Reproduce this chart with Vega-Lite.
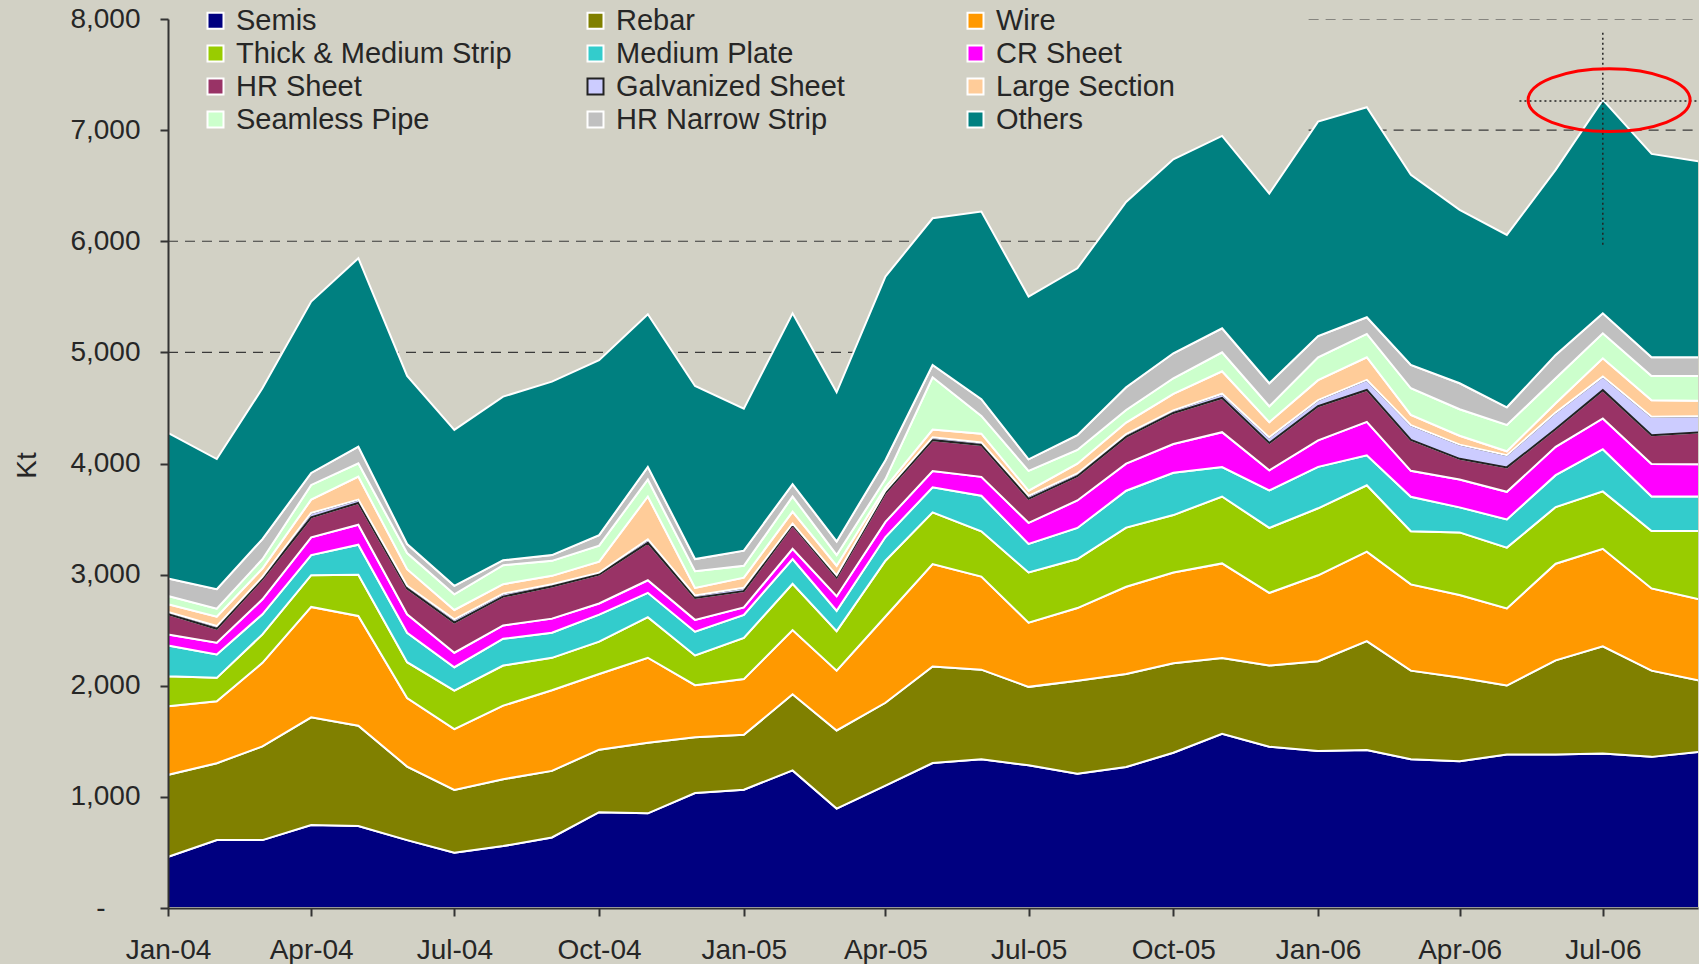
{
"$schema": "https://vega.github.io/schema/vega-lite/v6.json",
"width": 1530, "height": 889,
"autosize": {"type": "none"},
"padding": {"left": 168, "top": 19, "right": 1, "bottom": 56},
"background": "#d2d1c5",
"config": {"view": {"stroke": null}, "font": "Liberation Sans"},
"datasets": {
"series": [
{"s":"Semis","k":1},{"s":"Rebar","k":2},{"s":"Wire","k":3},{"s":"Thick & Medium Strip","k":4},{"s":"Medium Plate","k":5},{"s":"CR Sheet","k":6},{"s":"HR Sheet","k":7},{"s":"Galvanized Sheet","k":8},{"s":"Large Section","k":9},{"s":"Seamless Pipe","k":10},{"s":"HR Narrow Strip","k":11},{"s":"Others","k":12}
],
"grid": [
{"v":5000,"d":"2004-01","d2":"2006-09"},
{"v":6000,"d":"2004-01","d2":"2006-09"},
{"v":7000,"d":"2005-12-26","d2":"2006-09"},
{"v":8000,"d":"2005-12-26","d2":"2006-09"}
],
"vcross": [{"d":"2006-07","v":5968,"v2":7903}],
"hcross": [{"d":"2006-05-09","d2":"2006-09","v":7262}],
"ring": [{"d":"2006-07-05","v":7270}],
"steel": [
{"d":"2004-01","s":"Semis","v":460},{"d":"2004-01","s":"Rebar","v":738},{"d":"2004-01","s":"Wire","v":617},{"d":"2004-01","s":"Thick & Medium Strip","v":271},{"d":"2004-01","s":"Medium Plate","v":277},{"d":"2004-01","s":"CR Sheet","v":99},{"d":"2004-01","s":"HR Sheet","v":181},{"d":"2004-01","s":"Galvanized Sheet","v":21},{"d":"2004-01","s":"Large Section","v":69},{"d":"2004-01","s":"Seamless Pipe","v":75},{"d":"2004-01","s":"HR Narrow Strip","v":157},{"d":"2004-01","s":"Others","v":1310},
{"d":"2004-02","s":"Semis","v":611},{"d":"2004-02","s":"Rebar","v":692},{"d":"2004-02","s":"Wire","v":557},{"d":"2004-02","s":"Thick & Medium Strip","v":211},{"d":"2004-02","s":"Medium Plate","v":211},{"d":"2004-02","s":"CR Sheet","v":105},{"d":"2004-02","s":"HR Sheet","v":126},{"d":"2004-02","s":"Galvanized Sheet","v":24},{"d":"2004-02","s":"Large Section","v":85},{"d":"2004-02","s":"Seamless Pipe","v":72},{"d":"2004-02","s":"HR Narrow Strip","v":175},{"d":"2004-02","s":"Others","v":1171},
{"d":"2004-03","s":"Semis","v":611},{"d":"2004-03","s":"Rebar","v":843},{"d":"2004-03","s":"Wire","v":752},{"d":"2004-03","s":"Thick & Medium Strip","v":256},{"d":"2004-03","s":"Medium Plate","v":181},{"d":"2004-03","s":"CR Sheet","v":135},{"d":"2004-03","s":"HR Sheet","v":181},{"d":"2004-03","s":"Galvanized Sheet","v":21},{"d":"2004-03","s":"Large Section","v":75},{"d":"2004-03","s":"Seamless Pipe","v":84},{"d":"2004-03","s":"HR Narrow Strip","v":181},{"d":"2004-03","s":"Others","v":1357},
{"d":"2004-04","s":"Semis","v":746},{"d":"2004-04","s":"Rebar","v":970},{"d":"2004-04","s":"Wire","v":993},{"d":"2004-04","s":"Thick & Medium Strip","v":286},{"d":"2004-04","s":"Medium Plate","v":181},{"d":"2004-04","s":"CR Sheet","v":159},{"d":"2004-04","s":"HR Sheet","v":181},{"d":"2004-04","s":"Galvanized Sheet","v":39},{"d":"2004-04","s":"Large Section","v":120},{"d":"2004-04","s":"Seamless Pipe","v":132},{"d":"2004-04","s":"HR Narrow Strip","v":108},{"d":"2004-04","s":"Others","v":1542},
{"d":"2004-05","s":"Semis","v":737},{"d":"2004-05","s":"Rebar","v":903},{"d":"2004-05","s":"Wire","v":988},{"d":"2004-05","s":"Thick & Medium Strip","v":370},{"d":"2004-05","s":"Medium Plate","v":271},{"d":"2004-05","s":"CR Sheet","v":180},{"d":"2004-05","s":"HR Sheet","v":196},{"d":"2004-05","s":"Galvanized Sheet","v":30},{"d":"2004-05","s":"Large Section","v":207},{"d":"2004-05","s":"Seamless Pipe","v":120},{"d":"2004-05","s":"HR Narrow Strip","v":150},{"d":"2004-05","s":"Others","v":1696},
{"d":"2004-06","s":"Semis","v":611},{"d":"2004-06","s":"Rebar","v":662},{"d":"2004-06","s":"Wire","v":617},{"d":"2004-06","s":"Thick & Medium Strip","v":322},{"d":"2004-06","s":"Medium Plate","v":265},{"d":"2004-06","s":"CR Sheet","v":166},{"d":"2004-06","s":"HR Sheet","v":232},{"d":"2004-06","s":"Galvanized Sheet","v":24},{"d":"2004-06","s":"Large Section","v":150},{"d":"2004-06","s":"Seamless Pipe","v":145},{"d":"2004-06","s":"HR Narrow Strip","v":81},{"d":"2004-06","s":"Others","v":1513},
{"d":"2004-07","s":"Semis","v":497},{"d":"2004-07","s":"Rebar","v":566},{"d":"2004-07","s":"Wire","v":547},{"d":"2004-07","s":"Thick & Medium Strip","v":347},{"d":"2004-07","s":"Medium Plate","v":210},{"d":"2004-07","s":"CR Sheet","v":130},{"d":"2004-07","s":"HR Sheet","v":271},{"d":"2004-07","s":"Galvanized Sheet","v":30},{"d":"2004-07","s":"Large Section","v":84},{"d":"2004-07","s":"Seamless Pipe","v":141},{"d":"2004-07","s":"HR Narrow Strip","v":76},{"d":"2004-07","s":"Others","v":1403},
{"d":"2004-08","s":"Semis","v":557},{"d":"2004-08","s":"Rebar","v":602},{"d":"2004-08","s":"Wire","v":662},{"d":"2004-08","s":"Thick & Medium Strip","v":361},{"d":"2004-08","s":"Medium Plate","v":241},{"d":"2004-08","s":"CR Sheet","v":120},{"d":"2004-08","s":"HR Sheet","v":259},{"d":"2004-08","s":"Galvanized Sheet","v":27},{"d":"2004-08","s":"Large Section","v":85},{"d":"2004-08","s":"Seamless Pipe","v":171},{"d":"2004-08","s":"HR Narrow Strip","v":45},{"d":"2004-08","s":"Others","v":1472},
{"d":"2004-09","s":"Semis","v":635},{"d":"2004-09","s":"Rebar","v":599},{"d":"2004-09","s":"Wire","v":726},{"d":"2004-09","s":"Thick & Medium Strip","v":291},{"d":"2004-09","s":"Medium Plate","v":226},{"d":"2004-09","s":"CR Sheet","v":127},{"d":"2004-09","s":"HR Sheet","v":289},{"d":"2004-09","s":"Galvanized Sheet","v":21},{"d":"2004-09","s":"Large Section","v":75},{"d":"2004-09","s":"Seamless Pipe","v":135},{"d":"2004-09","s":"HR Narrow Strip","v":52},{"d":"2004-09","s":"Others","v":1561},
{"d":"2004-10","s":"Semis","v":862},{"d":"2004-10","s":"Rebar","v":563},{"d":"2004-10","s":"Wire","v":681},{"d":"2004-10","s":"Thick & Medium Strip","v":291},{"d":"2004-10","s":"Medium Plate","v":243},{"d":"2004-10","s":"CR Sheet","v":100},{"d":"2004-10","s":"HR Sheet","v":260},{"d":"2004-10","s":"Galvanized Sheet","v":18},{"d":"2004-10","s":"Large Section","v":99},{"d":"2004-10","s":"Seamless Pipe","v":144},{"d":"2004-10","s":"HR Narrow Strip","v":95},{"d":"2004-10","s":"Others","v":1574},
{"d":"2004-11","s":"Semis","v":852},{"d":"2004-11","s":"Rebar","v":636},{"d":"2004-11","s":"Wire","v":764},{"d":"2004-11","s":"Thick & Medium Strip","v":365},{"d":"2004-11","s":"Medium Plate","v":219},{"d":"2004-11","s":"CR Sheet","v":113},{"d":"2004-11","s":"HR Sheet","v":337},{"d":"2004-11","s":"Galvanized Sheet","v":31},{"d":"2004-11","s":"Large Section","v":386},{"d":"2004-11","s":"Seamless Pipe","v":153},{"d":"2004-11","s":"HR Narrow Strip","v":114},{"d":"2004-11","s":"Others","v":1373},
{"d":"2004-12","s":"Semis","v":1035},{"d":"2004-12","s":"Rebar","v":502},{"d":"2004-12","s":"Wire","v":468},{"d":"2004-12","s":"Thick & Medium Strip","v":268},{"d":"2004-12","s":"Medium Plate","v":213},{"d":"2004-12","s":"CR Sheet","v":107},{"d":"2004-12","s":"HR Sheet","v":197},{"d":"2004-12","s":"Galvanized Sheet","v":22},{"d":"2004-12","s":"Large Section","v":68},{"d":"2004-12","s":"Seamless Pipe","v":150},{"d":"2004-12","s":"HR Narrow Strip","v":110},{"d":"2004-12","s":"Others","v":1558},
{"d":"2005-01","s":"Semis","v":1065},{"d":"2005-01","s":"Rebar","v":493},{"d":"2005-01","s":"Wire","v":502},{"d":"2005-01","s":"Thick & Medium Strip","v":371},{"d":"2005-01","s":"Medium Plate","v":207},{"d":"2005-01","s":"CR Sheet","v":67},{"d":"2005-01","s":"HR Sheet","v":146},{"d":"2005-01","s":"Galvanized Sheet","v":31},{"d":"2005-01","s":"Large Section","v":91},{"d":"2005-01","s":"Seamless Pipe","v":107},{"d":"2005-01","s":"HR Narrow Strip","v":136},{"d":"2005-01","s":"Others","v":1278},
{"d":"2005-02","s":"Semis","v":1238},{"d":"2005-02","s":"Rebar","v":685},{"d":"2005-02","s":"Wire","v":578},{"d":"2005-02","s":"Thick & Medium Strip","v":417},{"d":"2005-02","s":"Medium Plate","v":222},{"d":"2005-02","s":"CR Sheet","v":92},{"d":"2005-02","s":"HR Sheet","v":213},{"d":"2005-02","s":"Galvanized Sheet","v":15},{"d":"2005-02","s":"Large Section","v":106},{"d":"2005-02","s":"Seamless Pipe","v":137},{"d":"2005-02","s":"HR Narrow Strip","v":112},{"d":"2005-02","s":"Others","v":1537},
{"d":"2005-03","s":"Semis","v":895},{"d":"2005-03","s":"Rebar","v":703},{"d":"2005-03","s":"Wire","v":538},{"d":"2005-03","s":"Thick & Medium Strip","v":356},{"d":"2005-03","s":"Medium Plate","v":183},{"d":"2005-03","s":"CR Sheet","v":131},{"d":"2005-03","s":"HR Sheet","v":167},{"d":"2005-03","s":"Galvanized Sheet","v":21},{"d":"2005-03","s":"Large Section","v":86},{"d":"2005-03","s":"Seamless Pipe","v":97},{"d":"2005-03","s":"HR Narrow Strip","v":122},{"d":"2005-03","s":"Others","v":1342},
{"d":"2005-04","s":"Semis","v":1102},{"d":"2005-04","s":"Rebar","v":745},{"d":"2005-04","s":"Wire","v":776},{"d":"2005-04","s":"Thick & Medium Strip","v":502},{"d":"2005-04","s":"Medium Plate","v":213},{"d":"2005-04","s":"CR Sheet","v":137},{"d":"2005-04","s":"HR Sheet","v":259},{"d":"2005-04","s":"Galvanized Sheet","v":21},{"d":"2005-04","s":"Large Section","v":31},{"d":"2005-04","s":"Seamless Pipe","v":74},{"d":"2005-04","s":"HR Narrow Strip","v":170},{"d":"2005-04","s":"Others","v":1652},
{"d":"2005-05","s":"Semis","v":1305},{"d":"2005-05","s":"Rebar","v":868},{"d":"2005-05","s":"Wire","v":922},{"d":"2005-05","s":"Thick & Medium Strip","v":465},{"d":"2005-05","s":"Medium Plate","v":226},{"d":"2005-05","s":"CR Sheet","v":146},{"d":"2005-05","s":"HR Sheet","v":278},{"d":"2005-05","s":"Galvanized Sheet","v":26},{"d":"2005-05","s":"Large Section","v":69},{"d":"2005-05","s":"Seamless Pipe","v":471},{"d":"2005-05","s":"HR Narrow Strip","v":111},{"d":"2005-05","s":"Others","v":1320},
{"d":"2005-06","s":"Semis","v":1339},{"d":"2005-06","s":"Rebar","v":806},{"d":"2005-06","s":"Wire","v":837},{"d":"2005-06","s":"Thick & Medium Strip","v":408},{"d":"2005-06","s":"Medium Plate","v":320},{"d":"2005-06","s":"CR Sheet","v":170},{"d":"2005-06","s":"HR Sheet","v":286},{"d":"2005-06","s":"Galvanized Sheet","v":24},{"d":"2005-06","s":"Large Section","v":78},{"d":"2005-06","s":"Seamless Pipe","v":160},{"d":"2005-06","s":"HR Narrow Strip","v":151},{"d":"2005-06","s":"Others","v":1688},
{"d":"2005-07","s":"Semis","v":1284},{"d":"2005-07","s":"Rebar","v":706},{"d":"2005-07","s":"Wire","v":578},{"d":"2005-07","s":"Thick & Medium Strip","v":451},{"d":"2005-07","s":"Medium Plate","v":258},{"d":"2005-07","s":"CR Sheet","v":189},{"d":"2005-07","s":"HR Sheet","v":216},{"d":"2005-07","s":"Galvanized Sheet","v":27},{"d":"2005-07","s":"Large Section","v":46},{"d":"2005-07","s":"Seamless Pipe","v":179},{"d":"2005-07","s":"HR Narrow Strip","v":104},{"d":"2005-07","s":"Others","v":1464},
{"d":"2005-08","s":"Semis","v":1208},{"d":"2005-08","s":"Rebar","v":837},{"d":"2005-08","s":"Wire","v":654},{"d":"2005-08","s":"Thick & Medium Strip","v":441},{"d":"2005-08","s":"Medium Plate","v":280},{"d":"2005-08","s":"CR Sheet","v":247},{"d":"2005-08","s":"HR Sheet","v":219},{"d":"2005-08","s":"Galvanized Sheet","v":24},{"d":"2005-08","s":"Large Section","v":88},{"d":"2005-08","s":"Seamless Pipe","v":124},{"d":"2005-08","s":"HR Narrow Strip","v":133},{"d":"2005-08","s":"Others","v":1502},
{"d":"2005-09","s":"Semis","v":1269},{"d":"2005-09","s":"Rebar","v":837},{"d":"2005-09","s":"Wire","v":785},{"d":"2005-09","s":"Thick & Medium Strip","v":532},{"d":"2005-09","s":"Medium Plate","v":332},{"d":"2005-09","s":"CR Sheet","v":244},{"d":"2005-09","s":"HR Sheet","v":240},{"d":"2005-09","s":"Galvanized Sheet","v":25},{"d":"2005-09","s":"Large Section","v":104},{"d":"2005-09","s":"Seamless Pipe","v":114},{"d":"2005-09","s":"HR Narrow Strip","v":204},{"d":"2005-09","s":"Others","v":1668},
{"d":"2005-10","s":"Semis","v":1397},{"d":"2005-10","s":"Rebar","v":806},{"d":"2005-10","s":"Wire","v":816},{"d":"2005-10","s":"Thick & Medium Strip","v":517},{"d":"2005-10","s":"Medium Plate","v":380},{"d":"2005-10","s":"CR Sheet","v":259},{"d":"2005-10","s":"HR Sheet","v":280},{"d":"2005-10","s":"Galvanized Sheet","v":23},{"d":"2005-10","s":"Large Section","v":148},{"d":"2005-10","s":"Seamless Pipe","v":141},{"d":"2005-10","s":"HR Narrow Strip","v":225},{"d":"2005-10","s":"Others","v":1746},
{"d":"2005-11","s":"Semis","v":1567},{"d":"2005-11","s":"Rebar","v":682},{"d":"2005-11","s":"Wire","v":852},{"d":"2005-11","s":"Thick & Medium Strip","v":602},{"d":"2005-11","s":"Medium Plate","v":265},{"d":"2005-11","s":"CR Sheet","v":314},{"d":"2005-11","s":"HR Sheet","v":308},{"d":"2005-11","s":"Galvanized Sheet","v":38},{"d":"2005-11","s":"Large Section","v":202},{"d":"2005-11","s":"Seamless Pipe","v":170},{"d":"2005-11","s":"HR Narrow Strip","v":217},{"d":"2005-11","s":"Others","v":1731},
{"d":"2005-12","s":"Semis","v":1452},{"d":"2005-12","s":"Rebar","v":730},{"d":"2005-12","s":"Wire","v":654},{"d":"2005-12","s":"Thick & Medium Strip","v":584},{"d":"2005-12","s":"Medium Plate","v":338},{"d":"2005-12","s":"CR Sheet","v":180},{"d":"2005-12","s":"HR Sheet","v":247},{"d":"2005-12","s":"Galvanized Sheet","v":50},{"d":"2005-12","s":"Large Section","v":137},{"d":"2005-12","s":"Seamless Pipe","v":143},{"d":"2005-12","s":"HR Narrow Strip","v":207},{"d":"2005-12","s":"Others","v":1707},
{"d":"2006-01","s":"Semis","v":1412},{"d":"2006-01","s":"Rebar","v":809},{"d":"2006-01","s":"Wire","v":773},{"d":"2006-01","s":"Thick & Medium Strip","v":603},{"d":"2006-01","s":"Medium Plate","v":373},{"d":"2006-01","s":"CR Sheet","v":238},{"d":"2006-01","s":"HR Sheet","v":307},{"d":"2006-01","s":"Galvanized Sheet","v":55},{"d":"2006-01","s":"Large Section","v":180},{"d":"2006-01","s":"Seamless Pipe","v":206},{"d":"2006-01","s":"HR Narrow Strip","v":191},{"d":"2006-01","s":"Others","v":1930},
{"d":"2006-02","s":"Semis","v":1421},{"d":"2006-02","s":"Rebar","v":980},{"d":"2006-02","s":"Wire","v":806},{"d":"2006-02","s":"Thick & Medium Strip","v":597},{"d":"2006-02","s":"Medium Plate","v":269},{"d":"2006-02","s":"CR Sheet","v":302},{"d":"2006-02","s":"HR Sheet","v":287},{"d":"2006-02","s":"Galvanized Sheet","v":90},{"d":"2006-02","s":"Large Section","v":204},{"d":"2006-02","s":"Seamless Pipe","v":210},{"d":"2006-02","s":"HR Narrow Strip","v":150},{"d":"2006-02","s":"Others","v":1890},
{"d":"2006-03","s":"Semis","v":1339},{"d":"2006-03","s":"Rebar","v":797},{"d":"2006-03","s":"Wire","v":776},{"d":"2006-03","s":"Thick & Medium Strip","v":478},{"d":"2006-03","s":"Medium Plate","v":310},{"d":"2006-03","s":"CR Sheet","v":234},{"d":"2006-03","s":"HR Sheet","v":278},{"d":"2006-03","s":"Galvanized Sheet","v":133},{"d":"2006-03","s":"Large Section","v":92},{"d":"2006-03","s":"Seamless Pipe","v":240},{"d":"2006-03","s":"HR Narrow Strip","v":210},{"d":"2006-03","s":"Others","v":1710},
{"d":"2006-04","s":"Semis","v":1321},{"d":"2006-04","s":"Rebar","v":754},{"d":"2006-04","s":"Wire","v":741},{"d":"2006-04","s":"Thick & Medium Strip","v":564},{"d":"2006-04","s":"Medium Plate","v":225},{"d":"2006-04","s":"CR Sheet","v":251},{"d":"2006-04","s":"HR Sheet","v":186},{"d":"2006-04","s":"Galvanized Sheet","v":128},{"d":"2006-04","s":"Large Section","v":80},{"d":"2006-04","s":"Seamless Pipe","v":238},{"d":"2006-04","s":"HR Narrow Strip","v":234},{"d":"2006-04","s":"Others","v":1560},
{"d":"2006-05","s":"Semis","v":1382},{"d":"2006-05","s":"Rebar","v":620},{"d":"2006-05","s":"Wire","v":694},{"d":"2006-05","s":"Thick & Medium Strip","v":547},{"d":"2006-05","s":"Medium Plate","v":254},{"d":"2006-05","s":"CR Sheet","v":248},{"d":"2006-05","s":"HR Sheet","v":220},{"d":"2006-05","s":"Galvanized Sheet","v":110},{"d":"2006-05","s":"Large Section","v":35},{"d":"2006-05","s":"Seamless Pipe","v":237},{"d":"2006-05","s":"HR Narrow Strip","v":159},{"d":"2006-05","s":"Others","v":1551},
{"d":"2006-06","s":"Semis","v":1382},{"d":"2006-06","s":"Rebar","v":846},{"d":"2006-06","s":"Wire","v":870},{"d":"2006-06","s":"Thick & Medium Strip","v":510},{"d":"2006-06","s":"Medium Plate","v":287},{"d":"2006-06","s":"CR Sheet","v":255},{"d":"2006-06","s":"HR Sheet","v":160},{"d":"2006-06","s":"Galvanized Sheet","v":148},{"d":"2006-06","s":"Large Section","v":84},{"d":"2006-06","s":"Seamless Pipe","v":225},{"d":"2006-06","s":"HR Narrow Strip","v":210},{"d":"2006-06","s":"Others","v":1665},
{"d":"2006-07","s":"Semis","v":1391},{"d":"2006-07","s":"Rebar","v":964},{"d":"2006-07","s":"Wire","v":877},{"d":"2006-07","s":"Thick & Medium Strip","v":517},{"d":"2006-07","s":"Medium Plate","v":380},{"d":"2006-07","s":"CR Sheet","v":276},{"d":"2006-07","s":"HR Sheet","v":255},{"d":"2006-07","s":"Galvanized Sheet","v":122},{"d":"2006-07","s":"Large Section","v":165},{"d":"2006-07","s":"Seamless Pipe","v":225},{"d":"2006-07","s":"HR Narrow Strip","v":180},{"d":"2006-07","s":"Others","v":1920},
{"d":"2006-08","s":"Semis","v":1360},{"d":"2006-08","s":"Rebar","v":776},{"d":"2006-08","s":"Wire","v":740},{"d":"2006-08","s":"Thick & Medium Strip","v":517},{"d":"2006-08","s":"Medium Plate","v":310},{"d":"2006-08","s":"CR Sheet","v":292},{"d":"2006-08","s":"HR Sheet","v":259},{"d":"2006-08","s":"Galvanized Sheet","v":166},{"d":"2006-08","s":"Large Section","v":150},{"d":"2006-08","s":"Seamless Pipe","v":218},{"d":"2006-08","s":"HR Narrow Strip","v":168},{"d":"2006-08","s":"Others","v":1830},
{"d":"2006-09","s":"Semis","v":1406},{"d":"2006-09","s":"Rebar","v":639},{"d":"2006-09","s":"Wire","v":730},{"d":"2006-09","s":"Thick & Medium Strip","v":618},{"d":"2006-09","s":"Medium Plate","v":310},{"d":"2006-09","s":"CR Sheet","v":290},{"d":"2006-09","s":"HR Sheet","v":287},{"d":"2006-09","s":"Galvanized Sheet","v":146},{"d":"2006-09","s":"Large Section","v":139},{"d":"2006-09","s":"Seamless Pipe","v":223},{"d":"2006-09","s":"HR Narrow Strip","v":168},{"d":"2006-09","s":"Others","v":1761}
]
},
"encoding": {
"x": {"field": "d", "type": "temporal",
"scale": {"type": "utc", "domain": [{"year": 2004, "month": 1, "date": 1, "utc": true}, {"year": 2006, "month": 8, "date": 30, "hours": 12, "utc": true}]},
"axis": {"title": null, "grid": false,
"labelExpr": "utcFormat(datum.value, '%b-%y')",
"values": [{"year": 2004, "month": 1, "date": 1, "utc": true}, {"year": 2004, "month": 4, "date": 1, "utc": true}, {"year": 2004, "month": 7, "date": 1, "utc": true}, {"year": 2004, "month": 10, "date": 1, "utc": true}, {"year": 2005, "month": 1, "date": 1, "utc": true}, {"year": 2005, "month": 4, "date": 1, "utc": true}, {"year": 2005, "month": 7, "date": 1, "utc": true}, {"year": 2005, "month": 10, "date": 1, "utc": true}, {"year": 2006, "month": 1, "date": 1, "utc": true}, {"year": 2006, "month": 4, "date": 1, "utc": true}, {"year": 2006, "month": 7, "date": 1, "utc": true}],
"labelFontSize": 28, "labelColor": "#262626", "labelFont": "Liberation Sans", "labelPadding": 20, "labelFlush": false, "labelOverlap": false,
"tickSize": 8, "tickWidth": 2, "tickColor": "#333333", "domainColor": "#333333", "domainWidth": 2, "zindex": 1}},
"y": {"field": "v", "type": "quantitative",
"scale": {"domain": [0, 8000], "nice": false},
"axis": {"values": [0, 1000, 2000, 3000, 4000, 5000, 6000, 7000, 8000], "grid": false,
"labelExpr": "datum.value == 0 ? '-' : format(datum.value, ',')",
"labelFontSize": 28, "labelColor": "#262626", "labelFont": "Liberation Sans",
"labelPadding": {"condition": {"test": "datum.value == 0", "value": 55}, "value": 20},
"tickSize": 8, "tickWidth": 2, "tickColor": "#333333", "domainColor": "#333333", "domainWidth": 2, "zindex": 1,
"title": "Kt", "titleFontSize": 28, "titleFontWeight": "normal", "titleColor": "#262626", "titleFont": "Liberation Sans",
"titleX": -133, "titleY": 446, "titleAngle": -90, "titleAlign": "center", "titleBaseline": "alphabetic"}}
},
"layer": [
{
"data": {"name": "grid"},
"mark": {"type": "rule", "strokeDash": [10, 7], "color": "#3a3a3a", "strokeWidth": 1.2, "clip": true},
"encoding": {"x2": {"field": "d2"}}
},
{
"data": {"name": "steel"},
"transform": [{"lookup": "s", "from": {"data": {"name": "series"}, "key": "s", "fields": ["k"]}}],
"mark": {"type": "area", "strokeWidth": 2, "fillOpacity": 1, "clip": true},
"encoding": {
"y": {"field": "v", "type": "quantitative", "stack": "zero"},
"fill": {"field": "s", "type": "nominal",
"scale": {"domain": ["Semis", "Rebar", "Wire", "Thick & Medium Strip", "Medium Plate", "CR Sheet", "HR Sheet", "Galvanized Sheet", "Large Section", "Seamless Pipe", "HR Narrow Strip", "Others"],
"range": ["#000080", "#808000", "#FF9900", "#99CC00", "#33CCCC", "#FF00FF", "#993366", "#CCCCFF", "#FFCC99", "#CCFFCC", "#C0C0C0", "#008080"]},
"legend": {"title": null, "orient": "none", "direction": "horizontal", "legendX": 33, "legendY": -13, "columns": 3, "gridAlign": "all", "columnPadding": 69, "rowPadding": 3, "padding": 0,
"symbolType": "square", "symbolSize": 256, "symbolStrokeWidth": 2, "symbolOpacity": 1,
"labelFontSize": 29, "labelFont": "Liberation Sans", "labelColor": "#262626", "labelOffset": 6, "labelLimit": 500}},
"stroke": {"field": "s", "type": "nominal",
"scale": {"domain": ["Semis", "Rebar", "Wire", "Thick & Medium Strip", "Medium Plate", "CR Sheet", "HR Sheet", "Galvanized Sheet", "Large Section", "Seamless Pipe", "HR Narrow Strip", "Others"],
"range": ["#ffffff", "#ffffff", "#ffffff", "#ffffff", "#ffffff", "#ffffff", "#ffffff", "#222222", "#ffffff", "#ffffff", "#ffffff", "#ffffff"]},
"legend": {"title": null, "orient": "none", "direction": "horizontal", "legendX": 33, "legendY": -13, "columns": 3, "gridAlign": "all", "columnPadding": 69, "rowPadding": 3, "padding": 0,
"symbolType": "square", "symbolSize": 256, "symbolStrokeWidth": 2, "symbolOpacity": 1,
"labelFontSize": 29, "labelFont": "Liberation Sans", "labelColor": "#262626", "labelOffset": 6, "labelLimit": 500}},
"order": {"field": "k", "type": "quantitative"}
}
},
{
"data": {"name": "vcross"},
"mark": {"type": "rule", "strokeDash": [2, 3], "color": "#222222", "strokeWidth": 1.5},
"encoding": {"y2": {"field": "v2"}}
},
{
"data": {"name": "hcross"},
"mark": {"type": "rule", "strokeDash": [2, 3], "color": "#222222", "strokeWidth": 1.5, "clip": true},
"encoding": {"x2": {"field": "d2"}}
},
{
"data": {"name": "ring"},
"mark": {"type": "point", "shape": "M -1 0 C -1 -0.2137 -0.5523 -0.387 0 -0.387 C 0.5523 -0.387 1 -0.2137 1 0 C 1 0.2137 0.5523 0.387 0 0.387 C -0.5523 0.387 -1 0.2137 -1 0 Z", "size": 26244, "filled": false, "stroke": "#ff0000", "strokeWidth": 3, "opacity": 1}
}
]
}
